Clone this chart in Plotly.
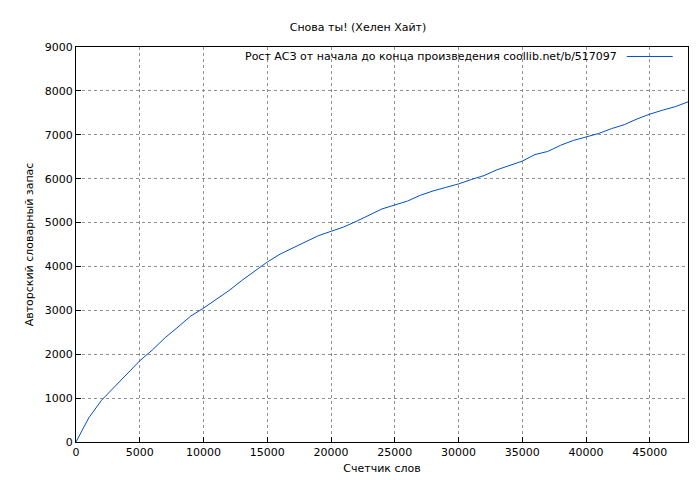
import plotly.graph_objects as go

words = [0,1000,2000,3000,4000,5000,6000,7000,8000,9000,10000,11000,12000,13000,14000,15000,16000,17000,18000,19000,20000,21000,22000,23000,24000,25000,26000,27000,28000,29000,30000,31000,32000,33000,34000,35000,36000,37000,38000,39000,40000,41000,42000,43000,44000,45000,46000,47000,48000]
vocab = [0,550,950,1250,1550,1850,2100,2380,2620,2870,3050,3250,3450,3680,3900,4100,4280,4420,4560,4700,4800,4900,5030,5170,5310,5400,5490,5620,5720,5800,5880,5980,6070,6200,6300,6400,6550,6620,6760,6870,6950,7030,7140,7230,7360,7470,7560,7640,7750]
legend_text = "Рост АСЗ от начала до конца произведения coollib.net/b/517097"

fig = go.Figure(go.Scatter(x=words, y=vocab, mode="lines", line=dict(color="#0050c8", width=1), showlegend=False))
ax = dict(showline=True, linecolor="black", mirror=True, ticks="inside", ticklen=5, tickcolor="black",
          showgrid=True, gridcolor="#909090", griddash="dot", gridwidth=1, zeroline=False,
          automargin=False, tickformat="d", tickfont=dict(size=11))
fig.update_xaxes(range=[0, 48000], dtick=5000, title=dict(text="Счетчик слов", standoff=6, font=dict(size=11)), **ax)
fig.update_yaxes(range=[0, 9000], dtick=1000, title=dict(text="Авторский словарный запас", standoff=8, font=dict(size=11)), **ax)
fig.update_layout(width=700, height=480, margin=dict(l=68, r=20, t=39, b=46, autoexpand=False),
                  plot_bgcolor="white", paper_bgcolor="white",
                  font=dict(family="DejaVu Sans", size=11, color="black"),
                  title=dict(text="Снова ты! (Хелен Хайт)", x=0.5, y=0.96, xanchor="center", yanchor="middle", font=dict(size=11)))
fig.add_annotation(xref="paper", yref="paper", x=0.888, y=0.976, xanchor="right", yanchor="middle",
                   text=legend_text, showarrow=False, font=dict(size=11))
fig.add_shape(type="line", xref="paper", yref="paper", x0=0.9, x1=0.975, y0=0.976, y1=0.976,
              line=dict(color="#0050c8", width=1))
fig.write_html("out.html")
